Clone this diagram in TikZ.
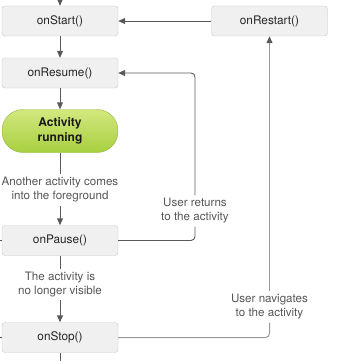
\documentclass[tikz,border=0pt]{standalone}
\usepackage{fontspec}
\setmainfont{TeX Gyre Heros}
\usetikzlibrary{arrows.meta}
\definecolor{boxfill}{HTML}{F0F0F0}
\definecolor{boxdraw}{HTML}{C8C8C8}
\definecolor{runtop}{HTML}{D2E87E}
\definecolor{runbot}{HTML}{A8CF40}
\definecolor{rundraw}{HTML}{92B640}
\definecolor{lblcol}{HTML}{555555}
\definecolor{linecol}{HTML}{5A5A5A}
\definecolor{navcol}{HTML}{9A9A9A}
\begin{document}
\begin{tikzpicture}[x=1pt,y=-1pt,
  box/.style={draw=boxdraw,fill=boxfill,rounded corners=3pt,minimum width=116pt,minimum height=30pt,inner sep=0pt,font=\fontsize{11.8}{13}\selectfont,text=black!85},
  run/.style={draw=rundraw,top color=runtop,bottom color=runbot,rounded corners=21pt,minimum width=116pt,minimum height=43pt,inner sep=0pt,align=center,font=\bfseries\fontsize{12}{15}\selectfont,text=black!90},
  lbl/.style={align=center,inner sep=3pt,text=lblcol,font=\fontsize{11.6}{14}\selectfont},
  conn/.style={draw=linecol,line width=0.9pt},
  arr/.style={conn,-{Triangle[width=6pt,length=7pt]}},
  navarr/.style={draw=navcol,line width=1pt,-{Triangle[width=6pt,length=7pt,color=linecol]}},
  navline/.style={draw=navcol,line width=1pt}]
\useasboundingbox (0,0) rectangle (341,361);
\node[box] (start) at (60,21) {onStart()};
\node[box] (restart) at (269.5,21) {onRestart()};
\node[box] (resume) at (60,73) {onResume()};
\node[run] (run) at (60,131) {Activity\\running};
\node[lbl] (l1) at (60,190) {Another activity comes\\into the foreground};
\node[box] (pause) at (60,240.5) {onPause()};
\node[lbl] (l2) at (60,284.5) {The activity is\\no longer visible};
\node[box] (stop) at (60,337.5) {onStop()};
\node[lbl] (ret) at (195,211) {User returns\\to the activity};
\node[lbl] (nav) at (269.5,307) {User navigates\\to the activity};
\coordinate (top) at (60,0);
\coordinate (bot) at (60,361);
\coordinate (pl) at (0,240.5);
\coordinate (sl) at (0,337.5);
\draw[arr] (top) -- (start);
\draw[arr] (start) -- (resume);
\draw[arr] (resume) -- (run);
\draw[conn] (run) -- (l1);
\draw[arr] (l1) -- (pause);
\draw[conn] (pause) -- (l2);
\draw[arr] (l2) -- (stop);
\draw[conn] (stop) -- (bot);
\draw[conn] (pause.west) -- (pl);
\draw[conn] (stop.west) -- (sl);
\draw[arr] (restart) -- (start);
\draw[conn,rounded corners=4pt] (pause.east) -| (ret.south);
\draw[arr,rounded corners=4pt] (ret.north) |- (resume.east);
\draw[navline,rounded corners=4pt] (stop.east) -| (nav.south);
\draw[navarr] (nav.north) -- (restart.south);
\end{tikzpicture}
\end{document}
